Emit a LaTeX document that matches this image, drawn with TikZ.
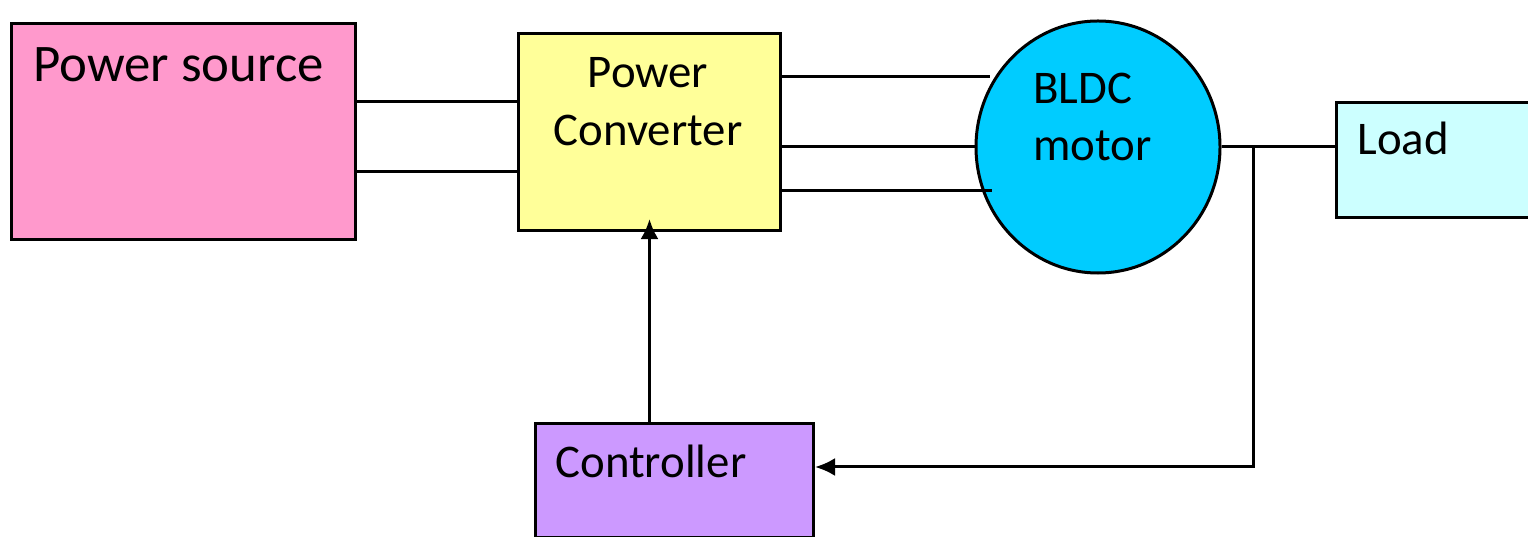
\documentclass[tikz,border=0pt]{standalone}
\usepackage{fontspec}
\setmainfont{Carlito}
\usetikzlibrary{arrows.meta,positioning,shapes.geometric}

\definecolor{srcpink}{HTML}{FF99CC}
\definecolor{convyellow}{HTML}{FFFF99}
\definecolor{motorblue}{HTML}{00CCFF}
\definecolor{loadcyan}{HTML}{CCFFFF}
\definecolor{ctrlpurple}{HTML}{CC99FF}

\begin{document}
\begin{tikzpicture}[x=0.5bp, y=-0.5bp, line width=1.5bp,
    block/.style={draw, rectangle, inner sep=0pt, anchor=north west},
    lbl/.style={inner sep=0pt, font=\fontsize{23.5}{28}\selectfont},
    sig/.style={-{Latex[length=10bp,width=9bp]}}]
    \clip (0,0) rectangle (1528,537);

    % Blocks
    \node[block, fill=srcpink, minimum width=172bp, minimum height=108bp] (src) at (10,22) {};
    \node[block, fill=convyellow, minimum width=131bp, minimum height=98.5bp] (conv) at (517,32) {};
    \node[draw, ellipse, fill=motorblue, minimum width=122bp, minimum height=126bp] (motor) at (1098,147) {};
    \node[block, fill=loadcyan, minimum width=105bp, minimum height=57.5bp] (load) at (1335,101) {};
    \node[block, fill=ctrlpurple, minimum width=139bp, minimum height=57bp] (ctrl) at (534,422) {};

    % Labels
    \node[lbl, anchor=base west, font=\fontsize{26.5}{32}\selectfont] (srctext) at (32,82) {Power source};
    \node[lbl, anchor=base] (convtop) at (648,88) {Power};
    \node[lbl, anchor=base] (convbot) at (648,146) {Converter};
    \node[lbl, anchor=base west] (motortop) at (1032,104) {BLDC};
    \node[lbl, anchor=base west] (motorbot) at (1032,161) {motor};
    \node[lbl, anchor=base west] (loadtext) at (1356,155) {Load};
    \node[lbl, anchor=base west] (ctrltext) at (554,477) {Controller};

    % Supply lines
    \draw ([yshift=15bp]src.east) -- ([yshift=15bp]src.east -| conv.west);
    \draw ([yshift=-20bp]src.east) -- ([yshift=-20bp]src.east -| conv.west);

    % Three phases to the motor
    \coordinate (w1) at (990,77);
    \coordinate (w3) at (992,191);
    \draw (conv.east |- w1) -- (w1);
    \draw (conv.east |- motor.west) -- (motor.west);
    \draw (conv.east |- w3) -- (w3);

    % Shaft and feedback
    \coordinate (tap) at (1253,147);
    \coordinate (fb) at (1253,467);
    \draw (motor.east) -- (load.west |- motor.east);
    \draw[sig] (tap) -- (fb) -- (fb -| ctrl.east);
    \draw[sig] (conv.south |- ctrl.north) -- ([yshift=6.5bp]conv.south);
\end{tikzpicture}
\end{document}
